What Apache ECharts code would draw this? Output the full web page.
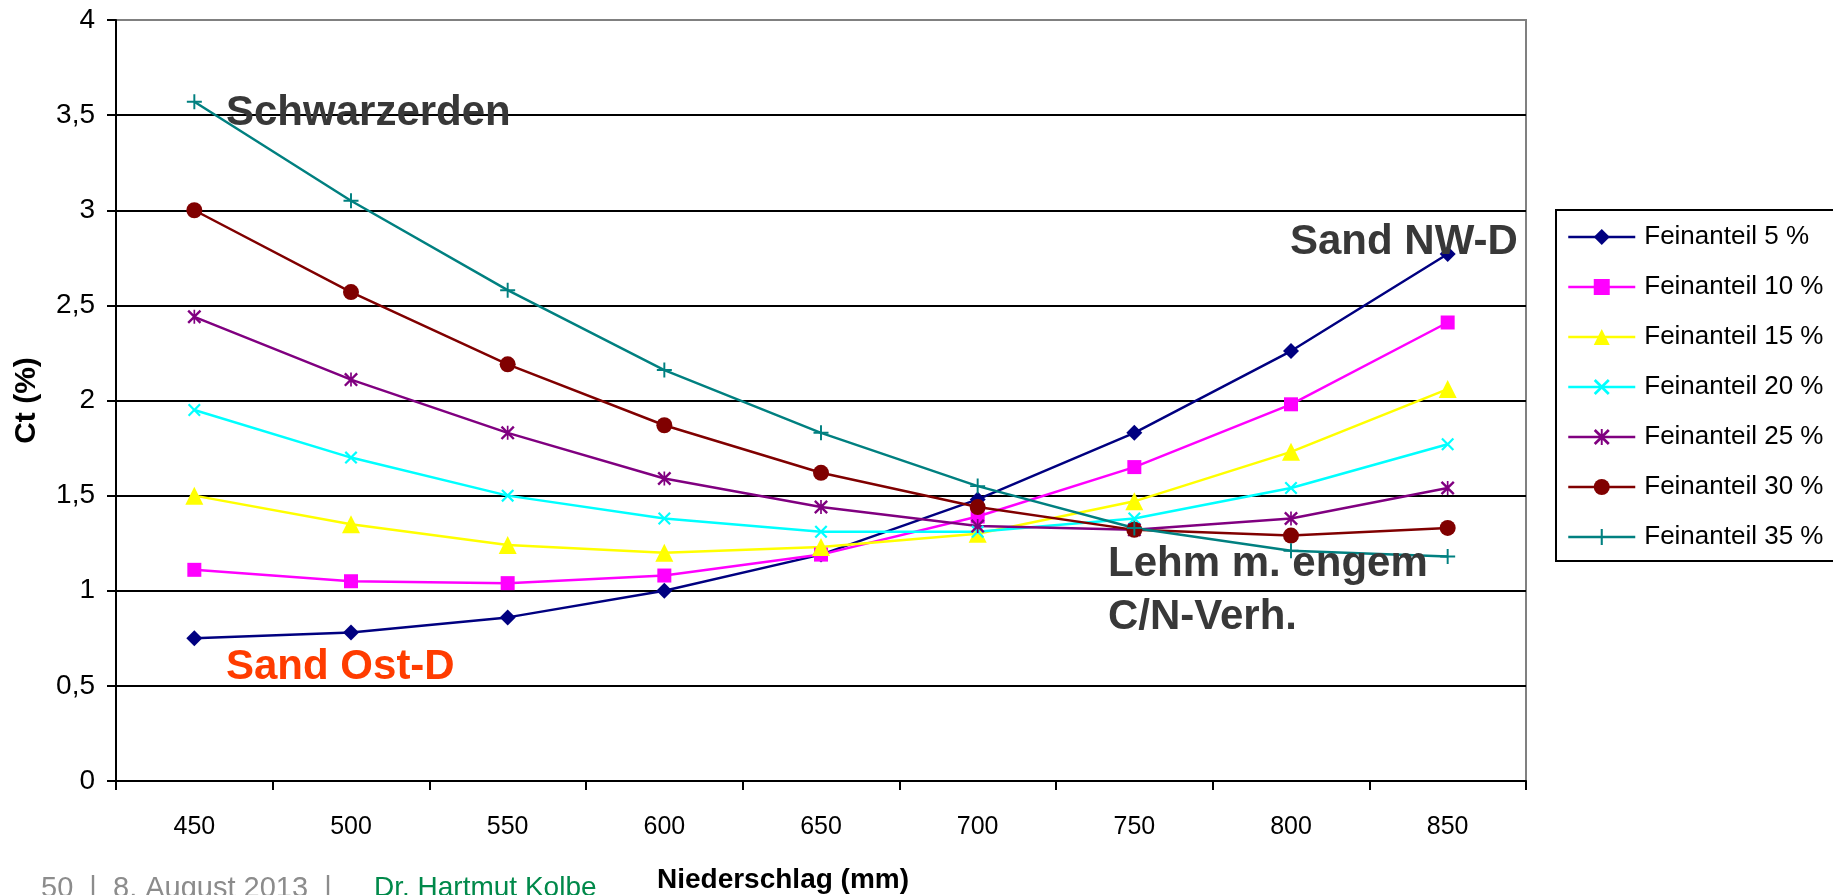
<!DOCTYPE html>
<html>
<head>
<meta charset="utf-8">
<script src="https://cdn.jsdelivr.net/npm/echarts@6/dist/echarts.min.js"></script>
<style>html,body{margin:0;padding:0;background:#fff;}#c{width:1833px;height:895px;}</style>
</head>
<body>
<div id="c"></div>
<script>
const categories = ['450','500','550','600','650','700','750','800','850'];
const yTicks = [0,0.5,1,1.5,2,2.5,3,3.5,4];
const seriesNames = ['Feinanteil 5 %','Feinanteil 10 %','Feinanteil 15 %','Feinanteil 20 %','Feinanteil 25 %','Feinanteil 30 %','Feinanteil 35 %'];
const fein5  = [0.75, 0.78, 0.86, 1.00, 1.19, 1.48, 1.83, 2.26, 2.77];
const fein10 = [1.11, 1.05, 1.04, 1.08, 1.19, 1.39, 1.65, 1.98, 2.41];
const fein15 = [1.50, 1.35, 1.24, 1.20, 1.23, 1.30, 1.47, 1.73, 2.06];
const fein20 = [1.95, 1.70, 1.50, 1.38, 1.31, 1.31, 1.38, 1.54, 1.77];
const fein25 = [2.44, 2.11, 1.83, 1.59, 1.44, 1.34, 1.32, 1.38, 1.54];
const fein30 = [3.00, 2.57, 2.19, 1.87, 1.62, 1.44, 1.32, 1.29, 1.33];
const fein35 = [3.57, 3.05, 2.58, 2.16, 1.83, 1.55, 1.33, 1.21, 1.18];
const annotations = ['Schwarzerden','Sand NW-D','Lehm m. engem','C/N-Verh.','Sand Ost-D'];
const footerLeft = '50  |  8. August 2013  |';
const footerRight = 'Dr. Hartmut Kolbe';

const FONT = "'Liberation Sans', Arial, sans-serif";
const colors = ['#000080','#FF00FF','#FFFF00','#00FFFF','#800080','#800000','#008080'];
const X_SYM = 'path://M0,1.2 L1.2,0 L5,3.8 L8.8,0 L10,1.2 L6.2,5 L10,8.8 L8.8,10 L5,6.2 L1.2,10 L0,8.8 L3.8,5 Z';
const AST_SYM = 'path://M0,1.2 L1.2,0 L5,3.8 L8.8,0 L10,1.2 L6.2,5 L10,8.8 L8.8,10 L5,6.2 L1.2,10 L0,8.8 L3.8,5 Z M4.4,0 L5.6,0 L5.6,10 L4.4,10 Z';
const PLUS_SYM = 'path://M4.35,0 L5.65,0 L5.65,4.35 L10,4.35 L10,5.65 L5.65,5.65 L5.65,10 L4.35,10 L4.35,5.65 L0,5.65 L0,4.35 L4.35,4.35 Z';
const symbols = ['diamond','rect','triangle',X_SYM,AST_SYM,'circle',PLUS_SYM];
const symSizes = [16,14,18,13,14,16,15];
const allData = [fein5,fein10,fein15,fein20,fein25,fein30,fein35];

const series = allData.map((d,i)=>({
  name: seriesNames[i],
  type: 'line',
  data: d,
  symbol: symbols[i],
  symbolSize: symSizes[i],
  showAllSymbol: true,
  lineStyle: {color: colors[i], width: 2.5},
  itemStyle: {color: colors[i]},
  emphasis: {disabled: true}
}));

const chart = echarts.init(document.getElementById('c'), null, {renderer:'canvas'});
chart.setOption({
  animation: false,
  backgroundColor: '#fff',
  textStyle: {fontFamily: FONT},
  grid: {left:116, right:307, top:20, bottom:114, show:true, borderColor:'#808080', borderWidth:2, backgroundColor:'transparent', containLabel:false, outerBoundsMode:'none'},
  xAxis: {
    type:'category', data: categories, boundaryGap:true,
    axisLine:{lineStyle:{color:'#000', width:2}},
    axisTick:{show:true, length:9, lineStyle:{color:'#000', width:2}},
    axisLabel:{color:'#000', fontSize:25, margin:34, fontFamily:FONT},
    splitLine:{show:false},
    name:'Niederschlag (mm)', nameLocation:'middle', nameGap:85,
    nameTextStyle:{color:'#000', fontSize:28, fontWeight:'bold', fontFamily:FONT, padding:[0,76,0,0]}
  },
  yAxis: {
    type:'value', min:0, max:4, interval:0.5,
    axisLine:{show:true, lineStyle:{color:'#000', width:2}},
    axisTick:{show:true, length:9, lineStyle:{color:'#000', width:2}},
    axisLabel:{color:'#000', fontSize:28, margin:21, fontFamily:FONT, formatter:v=>String(v).replace('.',',')},
    splitLine:{show:true, showMaxLine:false, lineStyle:{color:'#000', width:2}},
    name:'Ct (%)', nameLocation:'middle', nameGap:74,
    nameTextStyle:{color:'#000', fontSize:30, fontWeight:'bold', fontFamily:FONT}
  },
  legend: {
    orient:'vertical', left:1556, top:210,
    padding:[14,24,11,11],
    borderColor:'#000', borderWidth:2,
    itemWidth:67, itemHeight:20, itemGap:24,
    lineStyle:{width:2.5},
    textStyle:{color:'#000', fontSize:26, lineHeight:26, fontFamily:FONT, padding:[0,0,0,4]},
    data: seriesNames,
    selectedMode:false
  },
  series: series,
  graphic: [
    {type:'text', left:226, top:92, z:10, style:{text:annotations[0], font:"bold 42px "+FONT, fill:'#383838'}},
    {type:'text', left:1290, top:221, z:10, style:{text:annotations[1], font:"bold 42px "+FONT, fill:'#383838'}},
    {type:'text', left:1108, top:543, z:10, style:{text:annotations[2], font:"bold 42px "+FONT, fill:'#383838'}},
    {type:'text', left:1108, top:596, z:10, style:{text:annotations[3], font:"bold 42px "+FONT, fill:'#383838'}},
    {type:'text', left:226, top:646, z:10, style:{text:annotations[4], font:"bold 42px "+FONT, fill:'#FF3C00'}},
    {type:'text', left:41, top:874, z:10, style:{text:footerLeft, font:"29px "+FONT, fill:'#8c8c8c'}},
    {type:'text', left:374, top:874, z:10, style:{text:footerRight, font:"28px "+FONT, fill:'#00894A'}}
  ]
});
</script>
</body>
</html>
